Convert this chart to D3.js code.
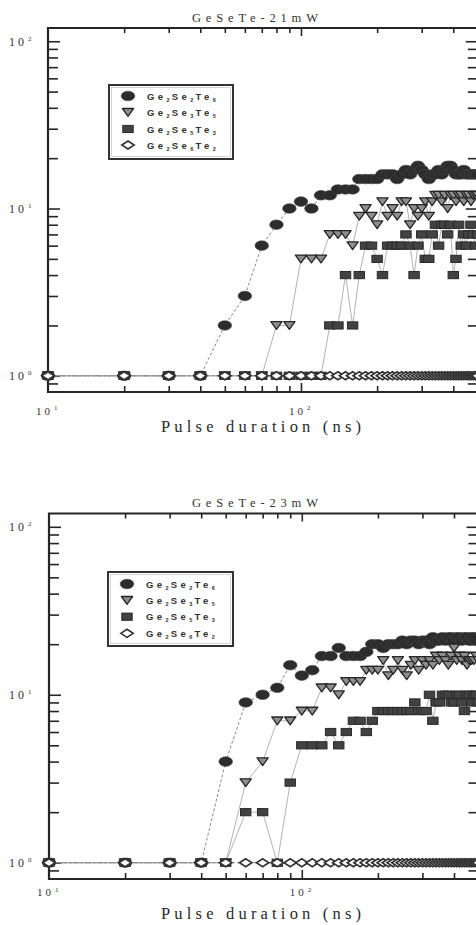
<!DOCTYPE html>
<html><head><meta charset="utf-8">
<script src="https://cdn.jsdelivr.net/npm/d3@7"></script>
<style>html,body{margin:0;padding:0;background:#fff;} svg{display:block;}</style>
</head><body>
<svg id="chart" width="476" height="925"></svg>
<script>
// ---------------- DATA ----------------
const pulseNs = [10,20,30,40,50,60,70,80,90,100,110,120,130,140,150,160,170,180,190,200,
                 210,220,230,240,250,260,270,280,290,300,310,320,330,340,350,360,370,380,390,400,
                 410,420,430,440,450,460,470,480,490,500];
const seriesLabels = ["Ge2Se2Te6","Ge2Se3Te5","Ge2Se5Te3","Ge2Se6Te2"];
const panelTitles = ["GeSeTe-21mW","GeSeTe-23mW"];
const xAxisTitle = "Pulse duration (ns)";

// panel 1 (21 mW)
const p1Circle = [1,1,1,1,2,3,6,8,10,11,10,12,12,13,13,13,15,15,15,15,
                  16,16,16,15,16,17,16,17,18,17,16,15,16,16,17,16,17,18,18,17,
                  16,16,16,17,16,16,16,16,16,16];
const p1Tri    = [1,1,1,1,1,1,1,2,2,5,5,5,7,7,7,6,9,10,9,8,
                  11,9,10,9,11,11,8,10,9,10,11,9,11,12,12,11,12,10,12,12,
                  11,12,12,11,12,12,11,12,12,12];
const p1Square = [1,1,1,1,1,1,1,1,1,1,1,1,2,2,4,2,4,6,6,5,
                  4,6,6,6,6,7,6,4,6,7,5,5,7,8,6,8,8,7,8,4,
                  5,8,6,7,6,7,8,7,6,7];
const p1Diamond= [1,1,1,1,1,1,1,1,1,1,1,1,1,1,1,1,1,1,1,1,
                  1,1,1,1,1,1,1,1,1,1,1,1,1,1,1,1,1,1,1,1,
                  1,1,1,1,1,1,1,1,1,1];
// panel 2 (23 mW)
const p2Circle = [1,1,1,1,4,9,10,11,15,13,14,17,17,19,17,17,17,18,20,20,
                  19,20,20,20,21,20,21,21,20,21,21,20,22,21,21,22,21,22,22,21,
                  22,22,21,22,22,21,22,22,21,22];
const p2Tri    = [1,1,1,1,1,3,4,7,7,8,8,11,11,10,12,12,12,14,14,14,
                  16,13,14,16,14,13,15,16,14,16,15,16,15,17,16,17,16,15,17,19,
                  16,17,16,17,15,16,16,16,17,16];
const p2Square = [1,1,1,1,1,2,2,1,3,5,5,5,6,5,6,7,7,6,7,8,
                  8,8,8,8,8,8,8,9,8,8,8,10,7,9,9,10,10,10,9,9,
                  10,10,9,8,10,10,9,10,10,9];
const p2Diamond= [1,1,1,1,1,1,1,1,1,1,1,1,1,1,1,1,1,1,1,1,
                  1,1,1,1,1,1,1,1,1,1,1,1,1,1,1,1,1,1,1,1,
                  1,1,1,1,1,1,1,1,1,1];

const xDomain = [10, 500];
const yDomain = [0.8, 120];
const xMinorTicks = [20,30,40,50,60,70,80,90,200,300,400];
const xMajorTicks = [100];
const yMinorTicks = [0.9,2,3,4,5,6,7,8,9,20,30,40,50,60,70,80,90];
const yMajorTicks = [1,10,100];
const yLabelValues = [1,10,100];
const yLabelExps = ["0","1","2"];
const xLabelValues = [10,100];
const xLabelExps = ["1","2"];

// ---------------- LAYOUT ----------------
const panels = [
  {title: panelTitles[0], series: [p1Circle,p1Tri,p1Square,p1Diamond],
   left:48, right:477.8, top:28, bottom:392, titleY:22, xLabelY:414.5, axisTitleY:432,
   legend:{x:109, y:85, w:124, h:74, rows:[96,112.3,129,145]}},
  {title: panelTitles[1], series: [p2Circle,p2Tri,p2Square,p2Diamond],
   left:49, right:478.5, top:513.5, bottom:879, titleY:507, xLabelY:896, axisTitleY:918.5,
   legend:{x:108, y:572, w:125, h:74, rows:[584,600.3,616.7,633.3]}}
];

const svg = d3.select("#chart");
const SERIF = "'Liberation Serif','Times New Roman',serif";
const SANS = "'Liberation Sans',Arial,sans-serif";
const INK = "#262626";

function spread(sel, width) {
  const n = sel.text().length;
  const L = sel.node().getComputedTextLength();
  sel.attr("letter-spacing", ((width - L) / Math.max(1, n - 1)).toFixed(2));
}

const markers = [
  {draw: g => g.append("ellipse").attr("rx",6.8).attr("ry",4.8).attr("fill","#2c2c2c").attr("stroke","#444").attr("stroke-width",0.6)},
  {draw: g => g.append("path").attr("d","M-5.6,-3.8L5.6,-3.8L0,4Z").attr("fill","#8e8e8e").attr("stroke","#262626").attr("stroke-width",1.3).attr("stroke-linejoin","round")},
  {draw: g => g.append("rect").attr("x",-5.2).attr("y",-3.6).attr("width",10.4).attr("height",7.2).attr("fill","#424242").attr("stroke","#2a2a2a").attr("stroke-width",1)},
  {draw: g => g.append("path").attr("d","M-6.2,0L0,-4L6.2,0L0,4Z").attr("fill","#fff").attr("stroke","#333").attr("stroke-width",1.6)}
];
const lineStyles = [
  {stroke:"#8a8a8a", width:1, dash:"3,2"},
  {stroke:"#a0a0a0", width:0.8, dash:null},
  {stroke:"#a0a0a0", width:0.8, dash:null},
  {stroke:"#8a8a8a", width:1, dash:"6,2,2,2"}
];

panels.forEach(p => {
  const x = d3.scaleLog().domain(xDomain).range([p.left, p.right]);
  const y = d3.scaleLog().domain(yDomain).range([p.bottom, p.top]);
  const g = svg.append("g");

  // ticks
  const tk = (axis, vals, len, tx, ty) => {
    const a = g.append("g").attr("transform", `translate(${tx},${ty})`)
      .call(axis.tickValues(vals).tickSize(-len).tickFormat(""));
    a.select(".domain").remove();
    a.selectAll("line").attr("stroke", INK).attr("stroke-width", 1.6);
  };
  tk(d3.axisLeft(y), yMinorTicks, 10, p.left, 0);
  tk(d3.axisLeft(y), yMajorTicks, 12, p.left, 0);
  tk(d3.axisRight(y), yMinorTicks, 10, p.right, 0);
  tk(d3.axisRight(y), yMajorTicks, 12, p.right, 0);
  tk(d3.axisBottom(x), xMinorTicks, 6, 0, p.bottom);
  tk(d3.axisBottom(x), xMajorTicks, 9, 0, p.bottom);
  tk(d3.axisTop(x), xMinorTicks, 5, 0, p.top);
  tk(d3.axisTop(x), xMajorTicks, 8, 0, p.top);

  // frame
  g.append("path")
    .attr("d", `M${p.right},${p.top}L${p.left},${p.top}L${p.left},${p.bottom}L${p.right},${p.bottom}Z`)
    .attr("fill","none").attr("stroke", INK).attr("stroke-width", 2.2);

  // lines
  p.series.forEach((vals, i) => {
    const ls = lineStyles[i];
    g.append("path")
      .attr("d", d3.line().x((d,j)=>x(pulseNs[j])).y(d=>y(d))(vals))
      .attr("fill","none").attr("stroke", ls.stroke).attr("stroke-width", ls.width)
      .attr("stroke-dasharray", ls.dash);
  });
  // markers
  p.series.forEach((vals, i) => {
    const mg = g.append("g");
    vals.forEach((v, j) => {
      const m = mg.append("g").attr("transform", `translate(${x(pulseNs[j])},${y(v)})`);
      markers[i].draw(m);
    });
  });

  // y tick labels
  yLabelValues.forEach((v, k) => {
    const t = g.append("text").attr("x", 9).attr("y", y(v) + 4.5)
      .attr("font-family", SERIF).attr("font-size", 12).attr("fill", "#333");
    t.append("tspan").text("10").attr("letter-spacing", 3);
    t.append("tspan").text(yLabelExps[k]).attr("font-size", 7).attr("dy", -5).attr("dx", 1);
  });
  // x tick labels
  xLabelValues.forEach((v, k) => {
    const t = g.append("text").attr("x", x(v) - 12).attr("y", p.xLabelY)
      .attr("font-family", SERIF).attr("font-size", 11).attr("fill", "#333");
    t.append("tspan").text("10").attr("letter-spacing", 3);
    t.append("tspan").text(xLabelExps[k]).attr("font-size", 7).attr("dy", -4.5).attr("dx", 1);
  });

  // title
  const tt = g.append("text").attr("x", 192).attr("y", p.titleY)
    .attr("font-family", SERIF).attr("font-size", 12.5).attr("fill", "#333").text(p.title);
  spread(tt, 126);

  // x axis title
  const at = g.append("text").attr("x", 161).attr("y", p.axisTitleY)
    .attr("font-family", SERIF).attr("font-size", 16.5).attr("fill", "#2a2a2a").text(xAxisTitle);
  spread(at, 200);

  // legend
  const L = p.legend;
  g.append("rect").attr("x", L.x).attr("y", L.y).attr("width", L.w).attr("height", L.h)
    .attr("fill", "#fff").attr("stroke", "#333").attr("stroke-width", 2);
  g.append("rect").attr("x", L.x+2.5).attr("y", L.y+2.5).attr("width", L.w-5).attr("height", L.h-5)
    .attr("fill", "none").attr("stroke", "#bbb").attr("stroke-width", 0.6);
  seriesLabels.forEach((lab, i) => {
    const cy = L.rows[i];
    const m = g.append("g").attr("transform", `translate(${L.x + 19},${cy})`);
    markers[i].draw(m);
    const t = g.append("text").attr("x", L.x + 38).attr("y", cy + 3.5)
      .attr("font-family", SANS).attr("font-weight", "bold").attr("font-size", 9.5)
      .attr("fill", "#333");
    const parts = lab.match(/[A-Za-z]+|\d+/g);
    parts.forEach((s, idx) => {
      if (/\d/.test(s)) {
        t.append("tspan").text(s).attr("font-size", 5.5).attr("dy", 2).attr("letter-spacing", 2.2);
      } else {
        t.append("tspan").text(s).attr("dy", idx === 0 ? 0 : -2).attr("letter-spacing", 3.4);
      }
    });
  });
});
</script>
</body></html>
